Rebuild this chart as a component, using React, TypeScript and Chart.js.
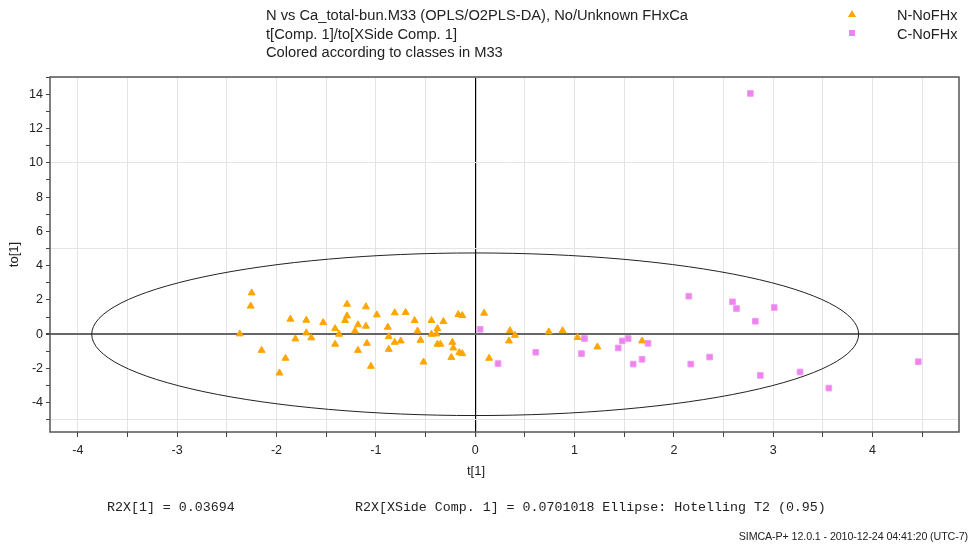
import React, { useEffect, useRef } from "react";
import { Chart, registerables } from "chart.js";
Chart.register(...registerables);

// ---- data ----
const N_X = [-2.37, -2.25, -2.26, -2.15, -1.97, -1.91, -1.86, -1.81, -1.70, -1.70, -1.65, -1.53, -1.41, -1.41, -1.37, -1.31, -1.29, -1.29, -1.21, -1.18, -1.18, -1.10, -1.10, -1.09, -1.05, -0.99, -0.88, -0.87, -0.87, -0.81, -0.81, -0.75, -0.70, -0.61, -0.58, -0.55, -0.52, -0.44, -0.44, -0.39, -0.38, -0.32, -0.38, -0.35, -0.23, -0.22, -0.24, -0.16, -0.13, -0.17, -0.13, 0.09, 0.14, 0.35, 0.40, 0.34, 0.74, 0.88, 1.03, 1.23, 1.68];
const N_Y = [0.02, 2.41, 1.64, -0.94, -2.26, -1.40, 0.88, -0.27, 0.82, 0.08, -0.21, 0.68, 0.33, -0.58, 0.00, 0.80, 1.07, 1.75, 0.19, 0.55, -0.94, 1.60, 0.47, -0.53, -1.87, 1.13, 0.41, -0.14, -0.88, 1.25, -0.47, -0.39, 1.27, 0.80, 0.19, -0.35, -1.62, 0.80, 0.00, 0.02, 0.33, 0.74, -0.58, -0.58, -0.47, -0.80, -1.35, -1.07, -1.13, 1.15, 1.09, 1.23, -1.40, 0.21, -0.06, -0.39, 0.14, 0.21, -0.19, -0.74, -0.39];
const C_X = [0.05, 0.23, 0.61, 1.10, 1.07, 1.44, 1.48, 1.54, 1.74, 1.59, 1.68, 2.15, 2.17, 2.59, 2.63, 3.01, 2.82, 2.36, 2.87, 3.27, 3.56, 4.46, 2.77];
const C_Y = [0.29, -1.71, -1.05, -0.25, -1.13, -0.80, -0.39, -0.25, -0.53, -1.74, -1.46, 2.22, -1.74, 1.89, 1.50, 1.56, 0.76, -1.33, -2.40, -2.20, -3.14, -1.60, 14.04];
const SERIES_NAMES = ["N-NoFHx", "C-NoFHx"];
const ELLIPSE_A = 3.86; // semi-axis along t[1]
const ELLIPSE_B = 4.74; // semi-axis along to[1]
const X_MIN = -4.28, X_MAX = 4.87, Y_MIN = -5.7, Y_MAX = 15;
const TITLE_LINES = [
  "N vs Ca_total-bun.M33 (OPLS/O2PLS-DA), No/Unknown FHxCa",
  "t[Comp. 1]/to[XSide Comp. 1]",
  "Colored according to classes in M33",
];
const FOOT_LEFT = "R2X[1] = 0.03694";
const FOOT_MID = "R2X[XSide Comp. 1] = 0.0701018 Ellipse: Hotelling T2 (0.95)";
const FOOT_STAMP = "SIMCA-P+ 12.0.1 - 2010-12-24 04:41:20 (UTC-7)";
const X_TITLE = "t[1]";
const Y_TITLE = "to[1]";

const SANS = "'Liberation Sans', Arial, sans-serif";
const MONO = "'Liberation Mono', 'Courier New', monospace";

const ellipsePlugin = {
  id: "ellipseBox",
  beforeDatasetsDraw(chart: any) {
    const { ctx, chartArea: a, scales } = chart;
    const xs = scales.x, ys = scales.y;
    ctx.save();
    const cx = xs.getPixelForValue(0), cy = ys.getPixelForValue(0);
    const rx = xs.getPixelForValue(ELLIPSE_A) - cx;
    const ry = cy - ys.getPixelForValue(ELLIPSE_B);
    ctx.beginPath();
    ctx.ellipse(cx, cy, rx, ry, 0, 0, Math.PI * 2);
    ctx.strokeStyle = "#222";
    ctx.lineWidth = 1;
    ctx.stroke();
    ctx.beginPath();
    ctx.strokeStyle = "#555";
    ctx.lineWidth = 1.5;
    ctx.rect(a.left, a.top, a.right - a.left, a.bottom - a.top);
    ctx.stroke();
    ctx.restore();
  },
};

export default function App() {
  const ref = useRef<HTMLCanvasElement>(null);
  useEffect(() => {
    document.body.style.margin = "0";
    const nData = N_X.map((x, i) => ({ x, y: N_Y[i] }));
    const cData = C_X.map((x, i) => ({ x, y: C_Y[i] }));
    const chart = new Chart(ref.current!, {
      type: "scatter",
      data: {
        datasets: [
          {
            label: SERIES_NAMES[0],
            data: nData,
            pointStyle: "triangle",
            pointRadius: 4,
            backgroundColor: "#ffa500",
            borderColor: "#ffa500",
            borderWidth: 1,
          },
          {
            label: SERIES_NAMES[1],
            data: cData,
            pointStyle: "rect",
            pointRadius: 4,
            backgroundColor: "#ee82ee",
            borderColor: "#f199f1",
            borderWidth: 1,
          },
        ],
      },
      options: {
        animation: false,
        responsive: false,
        maintainAspectRatio: false,
        layout: { padding: { left: 0, right: 15, top: 77, bottom: 82 } },
        plugins: { legend: { display: false }, tooltip: { enabled: false }, title: { display: false } },
        scales: {
          x: {
            type: "linear",
            min: X_MIN,
            max: X_MAX,
            afterFit: (s: any) => { s.height = 30; },
            border: { display: false },
            grid: {
              color: (c: any) => (c.tick && c.tick.value === 0 ? "#000" : "#e4e4e4"),
              lineWidth: (c: any) => (c.tick && c.tick.value === 0 ? 1.2 : 1),
              tickColor: "#444",
              tickLength: 5,
            },
            ticks: {
              stepSize: 0.5,
              includeBounds: false,
              autoSkip: false,
              maxRotation: 0,
              padding: 6,
              color: "#222",
              font: { family: SANS, size: 12.5 },
              callback: (v: any) => (Number.isInteger(Number(v)) ? String(v) : ""),
            },
          },
          y: {
            type: "linear",
            min: Y_MIN,
            max: Y_MAX,
            afterFit: (s: any) => { s.width = 50; },
            border: { display: false },
            title: { display: true, text: Y_TITLE, color: "#222", font: { family: SANS, size: 13 }, padding: { top: 7, bottom: 0 } },
            grid: {
              color: (c: any) => {
                const v = c.tick ? c.tick.value : 1;
                if (v === 0) return "#666";
                return v % 5 === 0 ? "#e4e4e4" : "rgba(0,0,0,0)";
              },
              lineWidth: (c: any) => (c.tick && c.tick.value === 0 ? 2 : 1),
              tickColor: "#444",
              tickLength: 4,
            },
            ticks: {
              stepSize: 1,
              includeBounds: false,
              autoSkip: false,
              padding: 3,
              color: "#222",
              font: { family: SANS, size: 12.5 },
              callback: (v: any) => (Number(v) % 2 === 0 ? String(v) : ""),
            },
          },
        },
      },
      plugins: [ellipsePlugin],
    });
    return () => chart.destroy();
  }, []);

  const txt: React.CSSProperties = { position: "absolute", whiteSpace: "nowrap", color: "#222" };
  return (
    <div style={{ position: "relative", width: 974, height: 544, background: "#fff", overflow: "hidden" }}>
      <canvas ref={ref} width={974} height={544} style={{ position: "absolute", left: 0, top: 0 }} />
      <div style={{ ...txt, left: 266, top: 6, font: `14.7px ${SANS}`, lineHeight: "18.5px" }}>
        {TITLE_LINES.map((l) => (
          <div key={l}>{l}</div>
        ))}
      </div>
      <svg style={{ position: "absolute", left: 847, top: 9 }} width={10} height={10}>
        <polygon points="5,1 9,8 1,8" fill="#ffa500" />
      </svg>
      <svg style={{ position: "absolute", left: 847, top: 28 }} width={10} height={10}>
        <rect x={2} y={2} width={6} height={6} fill="#ee82ee" />
      </svg>
      <div style={{ ...txt, left: 897, top: 6, font: `14.5px ${SANS}`, lineHeight: "18.5px" }}>
        <div>{SERIES_NAMES[0]}</div>
        <div>{SERIES_NAMES[1]}</div>
      </div>
      <div style={{ ...txt, left: 476, top: 470, transform: "translate(-50%,-50%)", font: `13px ${SANS}` }}>{X_TITLE}</div>
      <div style={{ ...txt, left: 107, top: 500, font: `13.3px ${MONO}` }}>{FOOT_LEFT}</div>
      <div style={{ ...txt, left: 355, top: 500, font: `13.3px ${MONO}` }}>{FOOT_MID}</div>
      <div style={{ ...txt, right: 6, top: 530, font: `10.7px 'Liberation Sans Narrow', ${SANS}`, letterSpacing: "-0.1px" }}>{FOOT_STAMP}</div>
    </div>
  );
}
